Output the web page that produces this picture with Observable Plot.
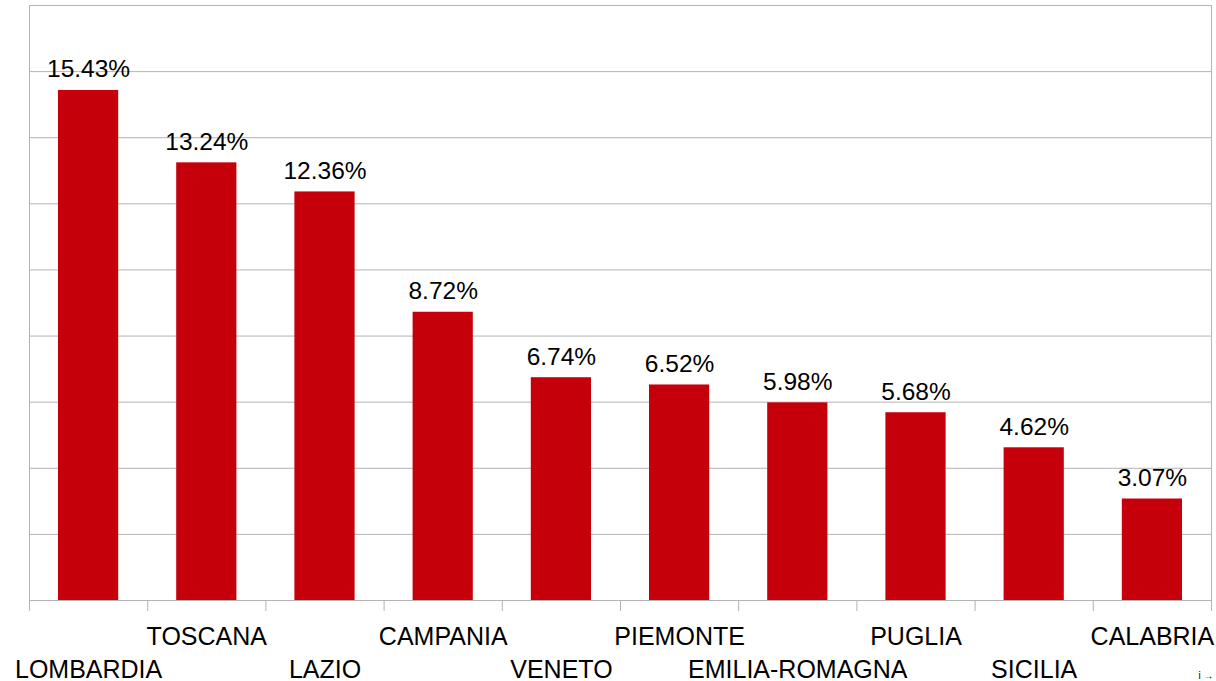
<!DOCTYPE html>
<html>
<head>
<meta charset="utf-8">
<script src="https://cdn.jsdelivr.net/npm/d3@7"></script>
<script src="https://cdn.jsdelivr.net/npm/@observablehq/plot@0.6"></script>
<style>
  html, body { margin: 0; padding: 0; background: #fff; overflow: hidden; }
  #chart svg { display: block; }
</style>
</head>
<body>
<div id="chart"></div>
<script>
const categories = ["LOMBARDIA", "TOSCANA", "LAZIO", "CAMPANIA", "VENETO", "PIEMONTE", "EMILIA-ROMAGNA", "PUGLIA", "SICILIA", "CALABRIA"];
const values = [15.43, 13.24, 12.36, 8.72, 6.74, 6.52, 5.98, 5.68, 4.62, 3.07];
const yTicks = [0, 2, 4, 6, 8, 10, 12, 14, 16, 18];

const data = categories.map((name, i) => ({name, i, value: values[i]}));
const boundaries = d3.range(categories.length + 1);

const grey = "#b3b3b3";
const font = "'Liberation Sans', Arial, sans-serif";

const chart = Plot.plot({
  width: 1216,
  height: 681,
  marginTop: 5,
  marginBottom: 81,
  marginLeft: 29,
  marginRight: 5,
  style: {fontFamily: font, background: "#fff"},
  x: {type: "linear", domain: [0, categories.length], axis: null},
  y: {domain: [0, 18], axis: null},
  marks: [
    Plot.gridY(yTicks, {stroke: grey, strokeOpacity: 1, strokeWidth: 1}),
    Plot.ruleX([0, categories.length], {stroke: grey, strokeWidth: 1}),
    Plot.axisX(boundaries, {tickSize: 11, tickFormat: () => "", stroke: grey, strokeOpacity: 1}),
    Plot.rectY(data, {x1: "i", x2: d => d.i + 1, y: "value", fill: "#c5000b", insetLeft: 29, insetRight: 29}),
    Plot.text(data, {
      x: d => d.i + 0.5, y: "value", text: d => d.value.toFixed(2) + "%",
      lineAnchor: "bottom", dy: -13, fontSize: 24.5, fill: "#000"
    }),
    Plot.text(data.filter(d => d.i % 2 === 1), {
      x: d => d.i + 0.5, y: () => 0, text: "name",
      lineAnchor: "bottom", dy: 44, fontSize: 25, fill: "#000"
    }),
    Plot.text(data.filter(d => d.i % 2 === 0), {
      x: d => d.i + 0.5, y: () => 0, text: "name",
      lineAnchor: "bottom", dy: 77, fontSize: 25, fill: "#000"
    })
  ]
});
document.getElementById("chart").appendChild(chart);
</script>
</body>
</html>
